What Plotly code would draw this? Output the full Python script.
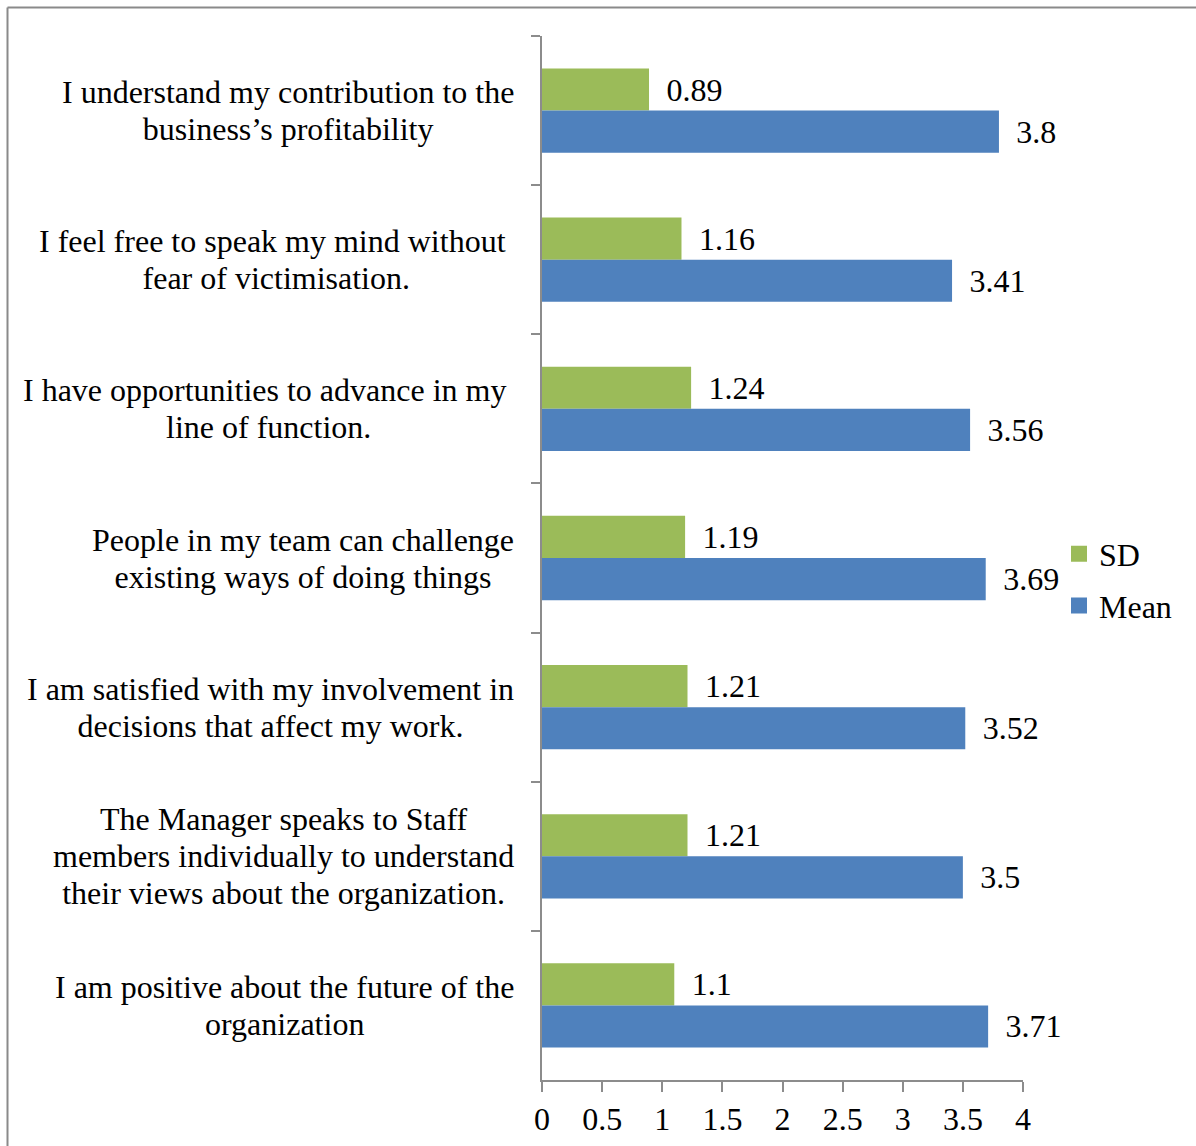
import plotly.graph_objects as go

# Survey statements (top to bottom) and their summary statistics
statements = [
    "I understand my contribution to the<br>business\u2019s profitability",
    "I feel free to speak my mind without\u00a0<br>fear of victimisation.",
    "I have opportunities to advance in my\u00a0<br>line of function.",
    "People in my team can challenge<br>existing ways of doing things",
    "I am satisfied with my involvement in<br>decisions that affect my work.",
    "The Manager speaks to Staff<br>members individually to understand<br>their views about the organization.",
    "I am positive about the future of the<br>organization",
]
sd_values = [0.89, 1.16, 1.24, 1.19, 1.21, 1.21, 1.1]
mean_values = [3.8, 3.41, 3.56, 3.69, 3.52, 3.5, 3.71]
x_ticks = [0, 0.5, 1, 1.5, 2, 2.5, 3, 3.5, 4]

GREEN = "#9BBB59"
BLUE = "#4F81BD"
AXIS = "#8C8C8C"
FONT = "Liberation Serif"
FS = 32            # text size
LINE_PX = 37       # spacing between wrapped label lines

W, H = 1196, 1146
ML, MR, MT, MB = 542, 173, 36, 66
PW, PH = W - ML - MR, H - MT - MB

fig = go.Figure()

for name, vals, color in [("SD", sd_values, GREEN), ("Mean", mean_values, BLUE)]:
    fig.add_trace(go.Bar(
        name=name, y=statements, x=vals, orientation="h",
        marker=dict(color=color, line=dict(width=0)),
        text=["\u2009\u00a0" + str(v) for v in vals],
        textposition="outside", constraintext="none", cliponaxis=False,
        textfont=dict(family=FONT, size=FS, color="black"),
        showlegend=False, hoverinfo="x+y",
    ))

# Legend entries with larger square swatches
for name, color, grp in [("SD", GREEN, "a"), ("Mean", BLUE, "b")]:
    fig.add_trace(go.Scatter(
        x=[None], y=[None], mode="markers", name=name, legendgroup=grp,
        marker=dict(symbol="square", size=17, color=color),
        showlegend=True,
    ))

# Centred, multi-line category labels to the left of the axis.
# The base font size sets the line pitch; the inner span sets glyph size.
for s in statements:
    fig.add_annotation(
        x=0, y=s, xref="x", yref="y",
        text="<br>".join(f"<span style='font-size:{FS}px'>{ln}</span>"
                         for ln in s.split("<br>")),
        showarrow=False, xanchor="right", yanchor="middle", align="center",
        xshift=-26,
        font=dict(family=FONT, size=LINE_PX / 1.3, color="black"),
    )

# Outer frame lines (top and left edges)
px_x = lambda px: (px - ML) / PW
px_y = lambda py: (H - MB - py) / PH
fig.add_shape(type="line", xref="paper", yref="paper",
              x0=px_x(7.5), x1=px_x(W + 5), y0=px_y(7.5), y1=px_y(7.5),
              line=dict(color="#8A8A8A", width=2))
fig.add_shape(type="line", xref="paper", yref="paper",
              x0=px_x(7.5), x1=px_x(7.5), y0=px_y(7.5), y1=px_y(H + 5),
              line=dict(color="#8A8A8A", width=2))

fig.update_layout(
    width=W, height=H,
    margin=dict(l=ML, r=MR, t=MT, b=MB, pad=0, autoexpand=False),
    paper_bgcolor="white", plot_bgcolor="white",
    barmode="group", bargap=0.435, bargroupgap=0,
    font=dict(family=FONT, size=FS, color="black"),
    legend=dict(
        x=px_x(1059), y=px_y(580), xanchor="left", yanchor="middle",
        font=dict(family=FONT, size=FS, color="black"),
        tracegroupgap=7, bgcolor="rgba(0,0,0,0)", borderwidth=0,
        itemclick=False, itemdoubleclick=False,
    ),
    xaxis=dict(
        range=[0, 4], tickvals=x_ticks, ticktext=[str(v) for v in x_ticks],
        showgrid=False, zeroline=False, showline=True, automargin=False,
        linecolor=AXIS, linewidth=2, ticks="outside", ticklen=10,
        tickwidth=2, tickcolor=AXIS,
        tickfont=dict(family=FONT, size=FS, color="black"),
        fixedrange=True,
    ),
    yaxis=dict(
        categoryorder="array", categoryarray=statements, autorange="reversed",
        showticklabels=False, showgrid=False, zeroline=False, showline=True,
        automargin=False,
        linecolor=AXIS, linewidth=2, ticks="outside", ticklen=9,
        tickwidth=2, tickcolor=AXIS, tickson="boundaries",
        fixedrange=True,
    ),
)

fig.write_html("out.html")
